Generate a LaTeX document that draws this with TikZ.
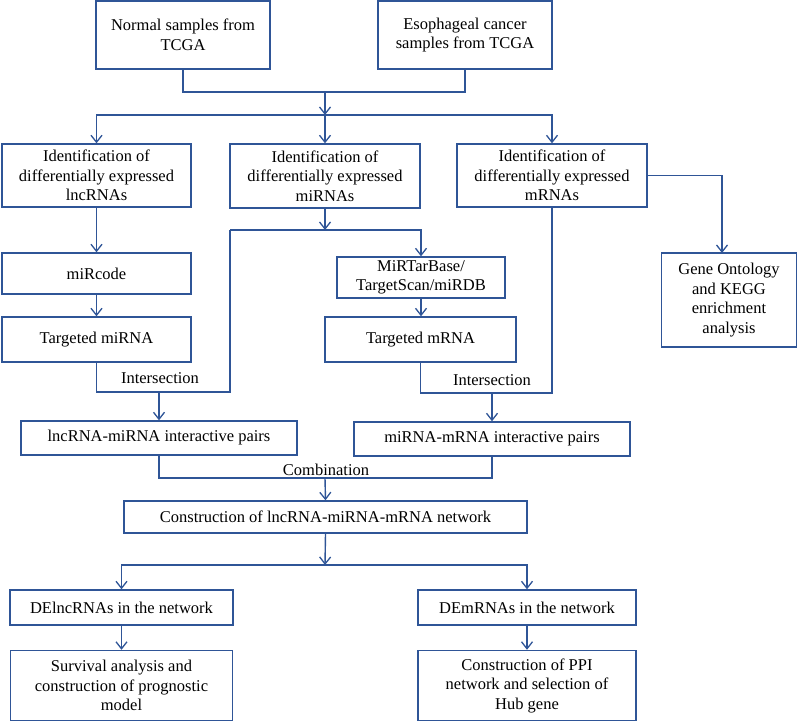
\documentclass[tikz,border=0pt]{standalone}
\usepackage{fontspec}
\setmainfont{Liberation Serif}
\usetikzlibrary{arrows.meta}
\definecolor{lineblue}{RGB}{47,85,151}
\begin{document}
\begin{tikzpicture}[x=1pt,y=-1pt,
  box/.style={draw=lineblue,line width=1.4pt,rectangle,inner sep=2pt,align=center,
    font=\fontsize{16.5}{19.5}\selectfont,text=black},
  lbl/.style={font=\fontsize{16.5}{19.5}\selectfont,text=black,inner sep=0pt},
  conn/.style={draw=lineblue,line width=1.4pt},
  arr/.style={conn,-{Straight Barb[length=7pt,width=11pt,line width=1.3pt]}}]
\useasboundingbox (0,0) rectangle (798,722);
% boxes
\node[box,minimum width=174pt,minimum height=68pt] (norm) at (183,35) {Normal samples from\\TCGA};
\node[box,minimum width=174pt,minimum height=68pt] (eso) at (465,35) {Esophageal cancer\\samples from TCGA};
\node[box,minimum width=189pt,minimum height=63pt] (lncid) at (96.5,175.5) {Identification of\\differentially expressed\\lncRNAs};
\node[box,minimum width=190pt,minimum height=64pt] (miid) at (325,176) {Identification of\\differentially expressed\\miRNAs};
\node[box,minimum width=190pt,minimum height=63pt] (mid) at (552,175.5) {Identification of\\differentially expressed\\mRNAs};
\node[box,minimum width=135pt,minimum height=94pt] (go) at (729,300) {Gene Ontology\\and KEGG\\enrichment\\analysis};
\node[box,minimum width=189pt,minimum height=41pt] (mircode) at (96.5,273.5) {miRcode};
\node[box,minimum width=189pt,minimum height=45pt] (tmirna) at (96.5,339.5) {Targeted miRNA};
\node[box,minimum width=168pt,minimum height=41pt] (mirtar) at (421,277.5) {MiRTarBase/\\TargetScan/miRDB};
\node[box,minimum width=191pt,minimum height=45pt] (tmrna) at (420.5,339.5) {Targeted mRNA};
\node[box,minimum width=276pt,minimum height=34pt] (lmpairs) at (159,438) {lncRNA-miRNA interactive pairs};
\node[box,minimum width=276pt,minimum height=34pt] (mmpairs) at (492,439) {miRNA-mRNA interactive pairs};
\node[box,minimum width=403pt,minimum height=32pt] (net) at (325.5,517) {Construction of lncRNA-miRNA-mRNA network};
\node[box,minimum width=223pt,minimum height=35pt] (del) at (121.5,607.5) {DElncRNAs in the network};
\node[box,minimum width=218pt,minimum height=35pt] (dem) at (527,607.5) {DEmRNAs in the network};
\node[box,minimum width=222pt,minimum height=70pt] (surv) at (121.5,685.5) {Survival analysis and\\construction of prognostic\\model};
\node[box,minimum width=218pt,minimum height=70pt] (ppi) at (527,685.5) {Construction of PPI\\network and selection of\\Hub gene};
% junction coordinates
\coordinate (j1) at (325,92);
\coordinate (j2) at (325,115);
\coordinate (j3) at (325,230);
\coordinate (s1) at (230,230);
\coordinate (s2) at (230,392);
\coordinate (i1) at (159,392);
\coordinate (s3) at (552,393);
\coordinate (i2) at (492,393);
\coordinate (c1) at (325,478);
\coordinate (j4) at (325,565);
\coordinate (gotop) at (722,253);
% connectors
\draw[conn] (norm.south) |- (j1) -| (eso.south);
\draw[arr] (j1) -- (j2);
\draw[arr] (j2) -| (lncid.north);
\draw[arr] (j2) -- (miid.north);
\draw[arr] (j2) -| (mid.north);
\draw[arr] (mid.east) -| (gotop);
\draw[arr] (lncid.south) -- (mircode.north);
\draw[arr] (mircode.south) -- (tmirna.north);
\draw[arr] (miid.south) -- (j3);
\draw[arr] (s1) -| (mirtar.north);
\draw[arr] (mirtar.south) -- (mirtar.south |- tmrna.north);
\draw[conn] (tmirna.south) |- (s2) -- (s1);
\draw[arr] (i1) -- (lmpairs.north);
\draw[conn] (tmrna.south) |- (s3) -- (mid.south);
\draw[arr] (i2) -- (mmpairs.north);
\draw[conn] (lmpairs.south) |- (c1) -| (mmpairs.south);
\draw[arr] (c1) -- (net.north);
\draw[arr] (net.south) -- (j4);
\draw[arr] (j4) -| (del.north);
\draw[arr] (j4) -| (dem.north);
\draw[arr] (del.south) -- (surv.north);
\draw[arr] (dem.south) -- (ppi.north);
% labels
\node[lbl] (lab1) at (160,378) {Intersection};
\node[lbl] (lab2) at (492,380) {Intersection};
\node[lbl] (lab3) at (326,470) {Combination};
\end{tikzpicture}
\end{document}
